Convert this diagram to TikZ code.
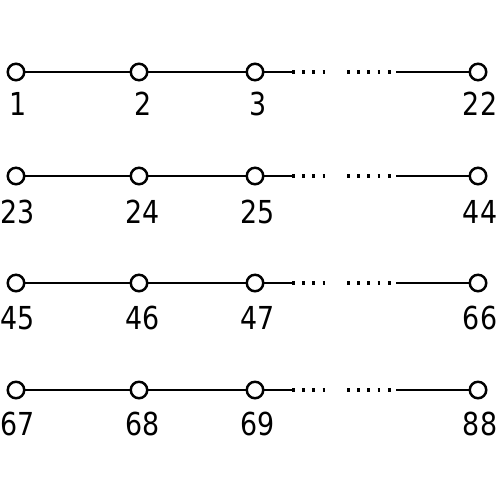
\documentclass[tikz,border=0pt]{standalone}
\usepackage{fontspec}
\setmainfont{DejaVu Sans}
\begin{document}
\begin{tikzpicture}[x=0.02cm,y=-0.02cm,
  vtx/.style={circle,draw,line width=1.4pt,fill=white,minimum size=0.33cm,inner sep=0pt},
  lbl/.style={font=\fontsize{18}{21}\selectfont,inner sep=0pt,xscale=0.85},
  edge/.style={line width=1.4pt},
  dotline/.style={line width=1.8pt,dash pattern=on 1.6pt off 4.2pt}]
\useasboundingbox (0,0) rectangle (500,500);
\foreach \r/\y/\ly/\a/\b/\c/\d in {1/72/104/1/2/3/22, 2/176/212/23/24/25/44, 3/283/318/45/46/47/66, 4/390/424/67/68/69/88}{
  \coordinate (p\r) at (292,\y);
  \coordinate (q\r) at (330,\y);
  \coordinate (s\r) at (347,\y);
  \coordinate (t\r) at (396,\y);
  \node[vtx] (n\r a) at (16,\y) {};
  \node[vtx] (n\r b) at (139,\y) {};
  \node[vtx] (n\r c) at (255,\y) {};
  \node[vtx] (n\r d) at (478,\y) {};
  \draw[edge] (n\r a) -- (n\r b);
  \draw[edge] (n\r b) -- (n\r c);
  \draw[edge] (n\r c) -- (p\r);
  \draw[dotline] (p\r) -- (q\r);
  \draw[dotline] (s\r) -- (t\r);
  \draw[edge] (t\r) -- (n\r d);
  \node[lbl] (l\r a) at (18,\ly) {\a};
  \node[lbl] (l\r b) at (143,\ly) {\b};
  \node[lbl] (l\r c) at (258,\ly) {\c};
  \node[lbl] (l\r d) at (480,\ly) {\d};
}
\end{tikzpicture}
\end{document}
